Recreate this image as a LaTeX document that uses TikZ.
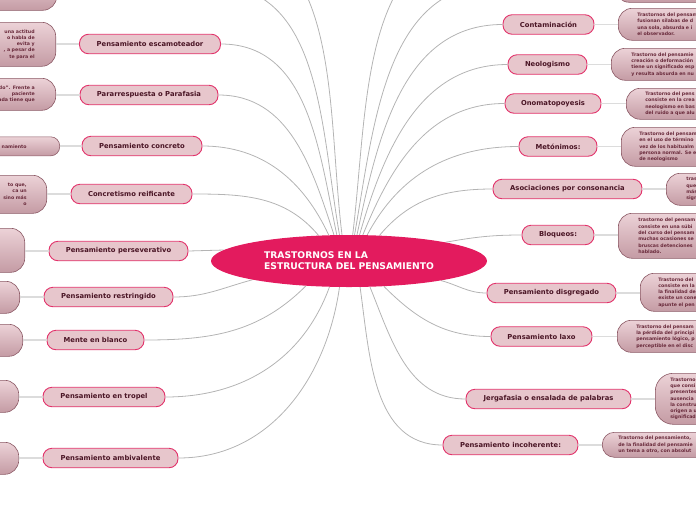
\documentclass[tikz,border=0pt]{standalone}
\usepackage{fontspec}
\setmainfont{DejaVu Sans}
\usetikzlibrary{shapes.geometric}
\definecolor{raizfondo}{HTML}{E31B5E}
\definecolor{temafondo}{HTML}{E7C6CC}
\definecolor{temaborde}{HTML}{E2336B}
\definecolor{tematexto}{HTML}{4A1525}
\definecolor{hojaarriba}{HTML}{ECD2D7}
\definecolor{hojaabajo}{HTML}{C49BA4}
\definecolor{hojaborde}{HTML}{8C5A66}
\definecolor{hojatexto}{HTML}{6A2B3C}
\definecolor{ramagris}{HTML}{B4B4B4}
\definecolor{enlacegris}{HTML}{DCDCDC}
\begin{document}
\begin{tikzpicture}[x=1pt, y=-1pt,
    tema/.style={draw=temaborde, fill=temafondo, line width=0.9pt, rounded corners=9pt,
        minimum height=19.5pt, inner xsep=0pt, text=tematexto,
        font=\fontsize{6.8}{8}\selectfont\bfseries},
    hoja/.style={draw=hojaborde, top color=hojaarriba, bottom color=hojaabajo, line width=0.6pt,
        rounded corners=14pt, text=hojatexto, font=\fontsize{4.7}{6.3}\selectfont\bfseries},
    hojaizq/.style={hoja, anchor=north east, align=right, text width=80pt},
    hojader/.style={hoja, anchor=north west, align=left, text width=110pt},
    rama/.style={draw=ramagris, line width=0.8pt},
    enlace/.style={draw=enlacegris, line width=1.4pt}]
    \useasboundingbox (0,0) rectangle (696,520);
    \clip (0,0) rectangle (696,520);

    % nodo central
    \node[ellipse, minimum width=276pt, minimum height=52pt] (raiz) at (349,261) {};

    % temas de la izquierda
    \coordinate (tizq1) at (215,-65);
    \coordinate (tizq2) at (212,-15);
    \node[tema, minimum width=141pt] (tescam) at (150,44) {Pensamiento escamoteador};
    \node[tema, minimum width=138pt] (tparar) at (149,95) {Pararrespuesta o Parafasia};
    \node[tema, minimum width=120pt] (tconcr) at (142,146) {Pensamiento concreto};
    \node[tema, minimum width=121pt] (treif) at (131.5,194) {Concretismo reificante};
    \node[tema, minimum width=139pt] (tpers) at (118.5,251) {Pensamiento perseverativo};
    \node[tema, minimum width=129pt] (trestr) at (108.5,297) {Pensamiento restringido};
    \node[tema, minimum width=97pt] (tblanco) at (95.5,340) {Mente en blanco};
    \node[tema, minimum width=122pt] (ttropel) at (104,397) {Pensamiento en tropel};
    \node[tema, minimum width=135pt] (tambiv) at (110.5,458) {Pensamiento ambivalente};

    % temas de la derecha
    \coordinate (tder1) at (486,-60);
    \coordinate (tder2) at (498,-16);
    \node[tema, minimum width=91pt] (tcontam) at (548.5,24.5) {Contaminación};
    \node[tema, minimum width=79pt] (tneolog) at (547.5,64.5) {Neologismo};
    \node[tema, minimum width=96pt] (tonomat) at (553,103.5) {Onomatopoyesis};
    \node[tema, minimum width=78pt] (tmeton) at (558,146.5) {Metónimos:};
    \node[tema, minimum width=149pt] (tasoc) at (567.5,189) {Asociaciones por consonancia};
    \node[tema, minimum width=72pt] (tbloq) at (558,235) {Bloqueos:};
    \node[tema, minimum width=129pt] (tdisgr) at (551.5,293) {Pensamiento disgregado};
    \node[tema, minimum width=101pt] (tlaxo) at (541.5,336.5) {Pensamiento laxo};
    \node[tema, minimum width=165pt] (tjerga) at (548.5,399) {Jergafasia o ensalada de palabras};
    \node[tema, minimum width=135pt] (tincoh) at (510.5,445) {Pensamiento incoherente:};

    % ramas hacia el centro
    \draw[rama] (tizq1) to[out=0, in=97] (raiz.105);
    \draw[rama] (tizq2) to[out=0, in=100] (raiz.110);
    \draw[rama] (tescam.east) to[out=0, in=102] (raiz.115);
    \draw[rama] (tparar.east) to[out=0, in=108] (raiz.120);
    \draw[rama] (tconcr.east) to[out=0, in=115] (raiz.128);
    \draw[rama] (treif.east) to[out=0, in=130] (raiz.140);
    \draw[rama] (tpers.east) -- (raiz.175);
    \draw[rama] (trestr.east) to[out=0, in=195] (raiz.191);
    \draw[rama] (tblanco.east) to[out=0, in=225] (raiz.210);
    \draw[rama] (ttropel.east) to[out=0, in=250] (raiz.233);
    \draw[rama] (tambiv.east) to[out=0, in=262] (raiz.250);
    \draw[rama] (tder1) to[out=180, in=83] (raiz.82);
    \draw[rama] (tder2) to[out=180, in=80] (raiz.78);
    \draw[rama] (tcontam.west) to[out=180, in=78] (raiz.73);
    \draw[rama] (tneolog.west) to[out=180, in=74] (raiz.68);
    \draw[rama] (tonomat.west) to[out=180, in=68] (raiz.62);
    \draw[rama] (tmeton.west) to[out=180, in=62] (raiz.55);
    \draw[rama] (tasoc.west) to[out=180, in=50] (raiz.40);
    \draw[rama] (tbloq.west) to[out=180, in=10] (raiz.11);
    \draw[rama] (tdisgr.west) to[out=180, in=345] (raiz.348);
    \draw[rama] (tlaxo.west) to[out=180, in=315] (raiz.324);
    \draw[rama] (tjerga.west) to[out=180, in=292] (raiz.309);
    \draw[rama] (tincoh.west) to[out=180, in=278] (raiz.293);

    \node[ellipse, fill=raizfondo, minimum width=276pt, minimum height=52pt, text=white, align=left,
        font=\fontsize{9.2}{11}\selectfont\bfseries] at (raiz) {TRASTORNOS EN LA\\ESTRUCTURA DEL PENSAMIENTO};

    % hojas de la izquierda
    \node[hojaizq, minimum height=35pt, inner xsep=20pt] (hizq2) at (57,-25) {};
    \node[hojaizq, minimum height=44pt, inner xsep=21pt] (hescam) at (56,22)
        {una actitud\\o habla de\\evita y\\, a pesar de\\te para el};
    \node[hojaizq, minimum height=32pt, inner xsep=21pt] (hparar) at (56,78)
        {do”. Frente a\\paciente\\ada tiene que};
    \node[hojaizq, minimum height=19pt, inner xsep=33pt, rounded corners=9pt] (hconcr) at (60,136.5)
        {namiento};
    \node[hojaizq, minimum height=38pt, inner xsep=20pt] (hreif) at (47,175)
        {to que,\\ca un\\sino más\\o};
    \node[hojaizq, minimum height=44pt, inner xsep=20pt] (hpers) at (25,228) {};
    \node[hojaizq, minimum height=32pt, inner xsep=20pt] (hrestr) at (20,281) {};
    \node[hojaizq, minimum height=32pt, inner xsep=20pt] (hblanco) at (23,324) {};
    \node[hojaizq, minimum height=32pt, inner xsep=20pt] (htropel) at (19,380) {};
    \node[hojaizq, minimum height=32pt, inner xsep=20pt] (hambiv) at (19,442) {};

    % hojas de la derecha
    \node[hojader, minimum height=32pt, inner xsep=19pt] (hder2) at (615,-30) {};
    \node[hojader, minimum height=32pt, inner xsep=19pt] (hcontam) at (618,8)
        {Trastornos del pensam\\fusionan sílabas de d\\una sola, absurda e i\\el observador.};
    \node[hojader, minimum height=32pt, inner xsep=20pt] (hneolog) at (611,48)
        {Trastorno del pensamie\\creación o deformación\\tiene un significado esp\\y resulta absurda en nu};
    \node[hojader, minimum height=31pt, inner xsep=19pt] (honomat) at (626,88)
        {Trastorno del pens\\consiste en la crea\\neologismo en bas\\del ruido a que alu};
    \node[hojader, minimum height=39pt, inner xsep=18pt] (hmeton) at (621,127)
        {Trastorno del pensam\\en el uso de término\\vez de los habitualm\\persona normal. Se e\\de neologismo};
    \node[hojader, minimum height=32pt, inner xsep=20pt] (hasoc) at (666,173)
        {tras\\que\\más\\sign};
    \node[hojader, minimum height=45pt, inner xsep=20pt] (hbloq) at (618,213)
        {trastorno del pensam\\consiste en una súbi\\del curso del pensam\\muchas ocasiones se\\bruscas detenciones\\hablado.};
    \node[hojader, minimum height=38pt, inner xsep=18pt] (hdisgr) at (640,273)
        {Trastorno del\\consiste en la\\la finalidad de\\existe un cone\\apunte el pen};
    \node[hojader, minimum height=32pt, inner xsep=19pt] (hlaxo) at (617,320)
        {Trastorno del pensam\\la pérdida del principi\\pensamiento lógico, p\\perceptible en el disc};
    \node[hojader, minimum height=51pt, inner xsep=15pt, rounded corners=18pt] (hjerga) at (655,373)
        {Trastorno\\que consi\\presentes\\ausencia\\la constru\\origen a u\\significad};
    \node[hojader, minimum height=25pt, inner xsep=16pt, rounded corners=12pt] (hincoh) at (602,432)
        {Trastorno del pensamiento,\\de la finalidad del pensamie\\un tema a otro, con absolut};

    % enlaces tema - hoja
    \foreach \t/\h in {tescam/hescam, tparar/hparar, tconcr/hconcr, treif/hreif, tpers/hpers,
        trestr/hrestr, tblanco/hblanco, ttropel/htropel, tambiv/hambiv}
        \draw[enlace] (\t.west) -- (\t.west -| \h.east);
    \foreach \t/\h in {tcontam/hcontam, tneolog/hneolog, tonomat/honomat, tmeton/hmeton, tasoc/hasoc,
        tbloq/hbloq, tdisgr/hdisgr, tlaxo/hlaxo, tjerga/hjerga, tincoh/hincoh}
        \draw[enlace] (\t.east) -- (\t.east -| \h.west);
\end{tikzpicture}
\end{document}
